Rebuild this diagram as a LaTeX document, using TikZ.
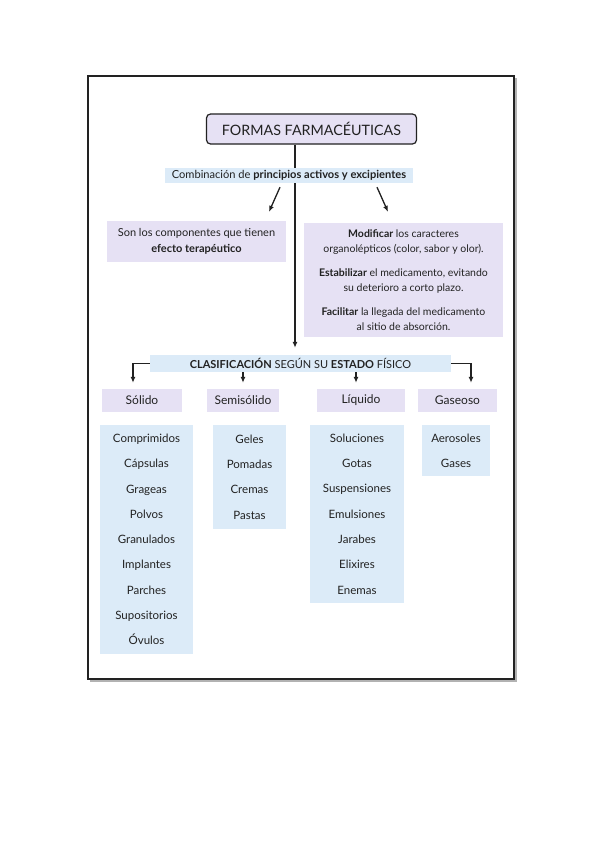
\documentclass[tikz,border=0pt]{standalone}
\usepackage{fontspec}
\setmainfont{Lato}
\usetikzlibrary{arrows.meta}
\definecolor{lav}{HTML}{E6E1F4}
\definecolor{lblue}{HTML}{DCEBF8}
\definecolor{ink}{HTML}{222222}
\begin{document}
\begin{tikzpicture}[x=1pt,y=-1pt,
  lavbox/.style={fill=lav, inner sep=0pt, align=center, text=ink},
  bluebox/.style={fill=lblue, inner sep=0pt, align=center, text=ink},
  catbox/.style={lavbox, minimum height=23pt, font=\fontsize{12}{13}\selectfont},
  listbox/.style={bluebox, font=\fontsize{11.5}{25.3}\selectfont},
  arr/.style={draw=ink, line width=1.3pt, -{Latex[length=6pt,width=5pt]}},
  ln/.style={draw=ink, line width=1.3pt}]
\useasboundingbox (0,0) rectangle (599,848);
\fill[white] (0,0) rectangle (599,848);
% frame
\fill[black!30] (90,78) rectangle (517,682);
\fill[white] (88,76) rectangle (514,679);
\draw[ink, line width=2pt] (88,76) rectangle (514,679);

\node[lavbox, draw=ink, line width=1.2pt, rounded corners=4pt, minimum width=210pt, minimum height=30pt,
  font=\fontsize{14.3}{16}\selectfont] (title) at (311.5,129) {FORMAS FARMACÉUTICAS};

\node[bluebox, minimum width=248pt, minimum height=15pt, font=\fontsize{11.1}{12}\selectfont]
  (comb) at (289,175.5) {Combinación de \textbf{principios activos y excipientes}};

\node[lavbox, minimum width=179pt, minimum height=41pt, font=\fontsize{11}{16.5}\selectfont]
  (left) at (196.5,241.5) {Son los componentes que tienen\\\textbf{efecto terapéutico}};

\node[lavbox, minimum width=199pt, minimum height=114pt, font=\fontsize{10.5}{15.5}\selectfont]
  (right) at (403.5,280) {\textbf{Modificar} los caracteres\\organolépticos (color, sabor y olor).\\[8pt]
  \textbf{Estabilizar} el medicamento, evitando\\su deterioro a corto plazo.\\[8pt]
  \textbf{Facilitar} la llegada del medicamento\\al sitio de absorción.};

\node[bluebox, minimum width=301pt, minimum height=17pt, font=\fontsize{11}{12}\selectfont]
  (clas) at (300.5,363.5) {\textbf{CLASIFICACIÓN} SEGÚN SU \textbf{ESTADO} FÍSICO};

\coordinate (spine) at (295,0);
\draw[ln] (title.south -| spine) -- (comb.north -| spine);
\draw[arr, shorten >=7pt] (comb.south -| spine) -- (clas.north -| spine);
\draw[arr] ([shift={(-9,4)}]comb.south) -- ([shift={(72.5,-9)}]left.north);
\draw[arr] ([shift={(88,4)}]comb.south) -- ([shift={(-15.5,-11)}]right.north);

\node[catbox, minimum width=80pt] (sol) at (142,400.5) {Sólido};
\node[catbox, minimum width=72pt] (semi) at (243,400.5) {Semisólido};
\node[catbox, minimum width=88pt] (liq) at (361,400.5) {Líquido};
\node[catbox, minimum width=79pt] (gas) at (457.5,400.5) {Gaseoso};

\draw[arr] (clas.west) -| ([shift={(-9,-6)}]sol.north);
\draw[arr] (clas.east) -| ([shift={(13.5,-6)}]gas.north);
\draw[arr] (semi.north |- clas.south) -- ([shift={(0,-6)}]semi.north);
\draw[arr] ([xshift=-5pt]liq.north |- clas.south) -- ([shift={(-5,-6)}]liq.north);

\node[listbox, minimum width=93pt, minimum height=229pt] (sollist) at (146.5,539.5)
  {Comprimidos\\Cápsulas\\Grageas\\Polvos\\Granulados\\Implantes\\Parches\\Supositorios\\Óvulos};
\node[listbox, minimum width=73pt, minimum height=104pt] (semilist) at (249.5,477)
  {Geles\\Pomadas\\Cremas\\Pastas};
\node[listbox, minimum width=94pt, minimum height=178pt] (liqlist) at (357,514)
  {Soluciones\\Gotas\\Suspensiones\\Emulsiones\\Jarabes\\Elixires\\Enemas};
\node[listbox, minimum width=68pt, minimum height=51pt] (gaslist) at (456,450.5)
  {Aerosoles\\Gases};
\end{tikzpicture}
\end{document}
